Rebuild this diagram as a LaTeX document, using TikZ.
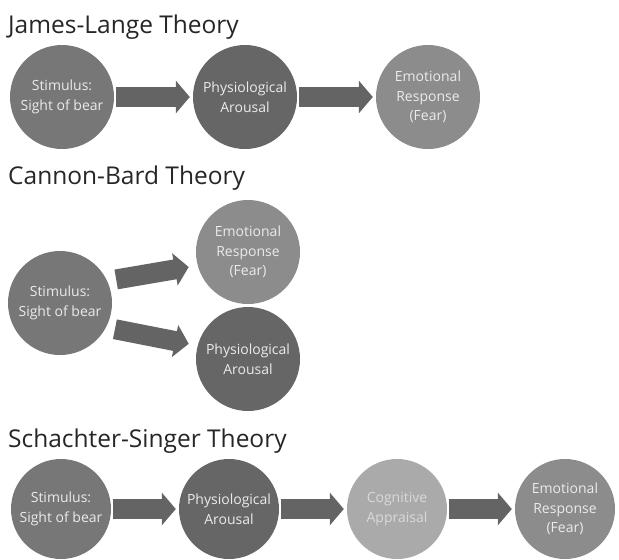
\documentclass[tikz,border=0pt]{standalone}
\usepackage{fontspec}
\setmainfont{Open Sans}
\usetikzlibrary{arrows.meta}

\definecolor{stimgray}{HTML}{777777}
\definecolor{physgray}{HTML}{666666}
\definecolor{emogray}{HTML}{8C8C8C}
\definecolor{coggray}{HTML}{AAAAAA}
\definecolor{arrowgray}{HTML}{646464}

\tikzset{
  ball/.style={circle,minimum size=104pt,inner sep=0pt,text=white!92!black,
    align=center,font=\fontsize{14}{19.5}\selectfont},
  smallball/.style={ball,minimum size=100pt},
  fat/.style={draw=arrowgray,line width=20pt,
    -{Triangle[length=14pt,width=32pt]},shorten <=2pt,shorten >=3pt},
  theory/.style={anchor=base west,inner sep=0pt,text=black!85,
    font=\fontsize{24.5}{28}\selectfont}
}

\begin{document}
\begin{tikzpicture}[x=1pt,y=-1pt,node distance=183pt]
  \useasboundingbox (0,0) rectangle (619,560);

  % James-Lange
  \node[theory] (t1) at (8,33) {James-Lange Theory};
  \node[ball,fill=stimgray] (s1) at (62,97) {Stimulus:\\Sight of bear};
  \node[ball,fill=physgray] (p1) [right of=s1] {Physiological\\Arousal};
  \node[ball,fill=emogray]  (e1) [right of=p1] {Emotional\\Response\\(Fear)};
  \draw[fat] (s1) -- (p1);
  \draw[fat] (p1) -- (e1);

  % Cannon-Bard
  \node[theory] (t2) at (8,184) {Cannon-Bard Theory};
  \node[ball,fill=stimgray] (s2) at (60,303) {Stimulus:\\Sight of bear};
  \node[ball,fill=emogray]  (e2) at (248,252) {Emotional\\Response\\(Fear)};
  \node[ball,fill=physgray] (p2) at (248,359) {Physiological\\Arousal};
  \draw[fat,shorten <=9pt,shorten >=9pt] (s2.25) -- (e2.195);
  \draw[fat,shorten <=9pt,shorten >=9pt] (s2.-28) -- (p2.165);

  % Schachter-Singer
  \node[theory] (t3) at (8,447) {Schachter-Singer Theory};
  \begin{scope}[node distance=168pt]
  \node[smallball,fill=stimgray] (s3) at (61,509) {Stimulus:\\Sight of bear};
  \node[smallball,fill=physgray] (p3) [right of=s3] {Physiological\\Arousal};
  \node[smallball,fill=coggray,text=white!85!black] (c3) [right of=p3] {Cognitive\\Appraisal};
  \node[smallball,fill=emogray]  (e3) [right of=c3] {Emotional\\Response\\(Fear)};
  \end{scope}
  \draw[fat] (s3) -- (p3);
  \draw[fat] (p3) -- (c3);
  \draw[fat] (c3) -- (e3);
\end{tikzpicture}
\end{document}
